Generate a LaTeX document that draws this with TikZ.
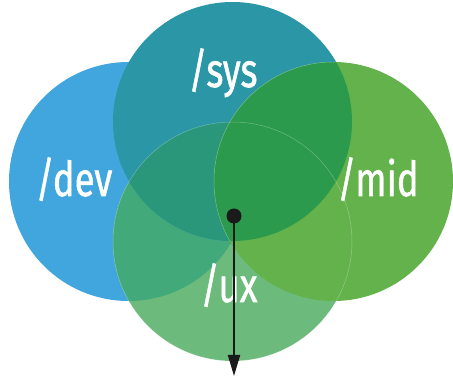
\documentclass[tikz,border=0pt]{standalone}
\usepackage{fontspec}
\setmainfont{Fira Sans}
\newfontfamily\lblfont{Fira Sans}[FakeBold=1.2]
\usetikzlibrary{arrows.meta}
\definecolor{devc}{HTML}{41A6DE}
\definecolor{sysc}{HTML}{2B97A6}
\definecolor{midc}{HTML}{64B24B}
\definecolor{uxc}{HTML}{6CBA7C}
\definecolor{devux}{HTML}{42A97B}
\definecolor{sysux}{HTML}{2A977A}
\definecolor{sysmid}{HTML}{2C9A4C}
\definecolor{ink}{HTML}{1A1A1A}
\tikzset{
  lbl/.style={text=white, anchor=base, inner sep=0pt, font=\lblfont\fontsize{48}{48}\selectfont},
  edge/.style={white, opacity=0.3, line width=0.5pt},
  dotnode/.style={circle, fill=ink, minimum size=15pt, inner sep=0pt},
  arrowline/.style={ink, line width=2pt, -{Triangle[length=21pt,width=12pt]}}
}
\newcommand{\rr}{119.5}
\begin{document}
\begin{tikzpicture}[x=1pt,y=-1pt]
\useasboundingbox (0,0) rectangle (453,382);
\coordinate (cdev) at (128.5,181.5);
\coordinate (csys) at (232.5,121.5);
\coordinate (cmid) at (333.5,181.5);
\coordinate (cux) at (232.5,241.5);
% dev
\fill[devc] (cdev) circle (\rr);
% ux
\fill[uxc] (cux) circle (\rr);
\begin{scope}
  \clip (cux) circle (\rr);
  \fill[devux] (cdev) circle (\rr);
\end{scope}
% sys
\fill[sysc] (csys) circle (\rr);
\begin{scope}
  \clip (csys) circle (\rr);
  \fill[sysux] (cux) circle (\rr);
\end{scope}
% mid
\fill[midc] (cmid) circle (\rr);
\begin{scope}
  \clip (cmid) circle (\rr);
  \fill[sysmid] (csys) circle (\rr);
\end{scope}
% faint edges
\draw[edge] (cux) circle (\rr);
\begin{scope}
  \clip (csys) circle (\rr);
  \draw[edge] (cmid) circle (\rr);
\end{scope}
% labels
\node[lbl] (sys) at (223,87) {\scalebox{0.76}[1]{/sys}};
\node[lbl] (dev) at (74,196) {\scalebox{0.76}[1]{/dev}};
\node[lbl] (mid) at (378,196) {\scalebox{0.76}[1]{/mid}};
\node[lbl] (ux) at (229,302) {\scalebox{0.76}[1]{/ux}};
% dot and arrow
\node[dotnode] (dot) at (234,216) {};
\coordinate (tip) at (234,376);
\draw[arrowline] (dot.center) -- (tip);
\end{tikzpicture}
\end{document}
